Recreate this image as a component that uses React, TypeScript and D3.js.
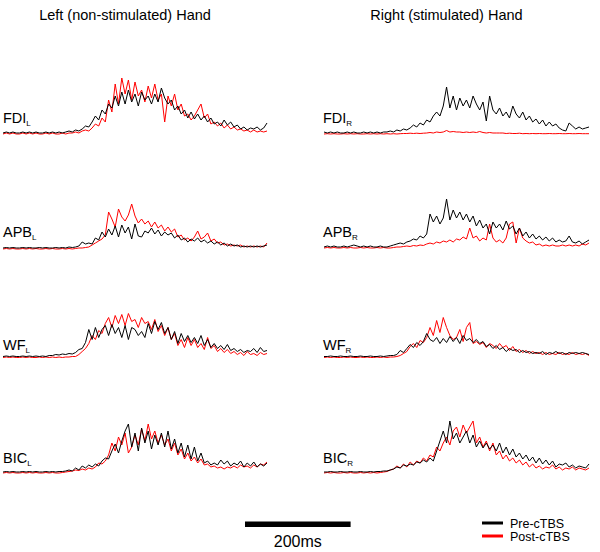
import React from "react";
import * as d3 from "d3";

// ---------- data ----------
const TITLES = ["Left (non-stimulated) Hand", "Right (stimulated) Hand"];
const MUSCLES = ["FDI", "APB", "WF", "BIC"];
const SIDES = ["L", "R"];
const LEGEND = ["Pre-cTBS", "Post-cTBS"];
const SWEEP_MS = 500;
const SCALE_BAR_MS = 200;
const SCALE_BAR_LABEL = "200ms";

// rectified EMG envelopes (a.u.), sampled evenly over the sweep
const preFDI_L = [1,2,1,2,1,1,2,1,2,1,2,1,1,2,1,2,1,2,1,2,3,2,4,3,5,8,7,12,18,14,24,20,30,26,38,28,42,30,44,32,40,28,42,34,38,30,40,32,46,36,30,34,24,28,20,24,16,22,15,20,14,18,12,16,10,12,8,14,9,12,7,9,5,7,4,6,5,7,4,6,11];
const postFDI_L = [0,1,0,1,0,0,1,0,1,0,1,0,0,1,0,1,0,0,1,0,1,1,2,1,3,4,3,6,10,8,16,12,34,22,50,30,56,40,54,34,52,38,44,32,48,36,50,34,40,12,38,28,40,24,30,18,20,14,18,24,30,16,20,10,12,8,11,6,9,5,7,4,5,3,4,2,4,2,3,2,3];

const preFDI_R = [2,1,2,1,2,1,1,2,1,2,1,1,2,1,2,1,2,1,2,2,3,2,4,3,5,4,6,9,7,11,9,14,12,18,22,18,28,47,26,38,24,36,28,34,26,38,30,24,32,13,38,24,20,26,18,22,16,28,20,16,22,14,18,12,15,10,14,8,12,8,10,6,4,3,11,8,5,7,5,6,7];
const postFDI_R = [0,0.3,0,0.3,0,0,0.3,0,0.3,0,0.3,0,0,0.3,0,0.3,0,0.3,0,0.3,0,0.3,0,0.3,0.5,0.5,0.8,0.5,0.8,0.5,0.8,1,1.5,1,2,1.5,2,3.5,2,2.5,2,2,1.5,2,1.5,2,1.5,2.5,1.5,1,1.5,1,1,1,1,0.5,0.8,0.5,0.5,0.8,0.3,0.5,0.3,0.5,0.3,0.5,0.3,0.3,0.5,0.3,0.3,0.5,0.3,0.3,0.5,0.3,0.3,0.5,0.3,0.3,0.3];

const preAPB_L = [1,1.5,1,1.5,1,1,1.5,1,1.5,1,1,1.5,1,1.5,1,1,1.5,1,1.5,1,2,1.5,2,3,7,5,6,5,11,9,17,12,20,14,23,12,24,16,22,10,25,13,12,18,16,21,15,19,13,17,14,16,11,14,9,11,7,10,8,11,7,9,6,8,5,7,4,6,3,5,3,4,2,3,2,3,2,3,2,3,4];
const postAPB_L = [0,0.5,0,0.5,0,0,0.5,0,0.5,0,0.5,0,0,0.5,0,0.5,0,0,0.5,0,0.5,0,0.5,1,1,1.5,2,4,6,8,10,14,37,30,22,40,32,28,34,45,33,26,30,25,28,22,27,21,24,18,22,17,20,12,14,9,11,8,12,18,10,12,16,8,10,6,7,4,5,3,4,3,4,2,3,2,3,2,3,2,6];

const preAPB_R = [1,2,1,2,1,1,2,1,2,3,2,1,2,1,2,1,1,2,1,1,2,3,4,5,4,6,7,9,8,12,10,14,34,26,32,24,30,49,28,38,30,36,28,34,26,32,22,28,20,24,14,26,20,24,18,27,19,22,14,20,12,16,10,14,9,12,8,11,7,10,6,8,6,7,12,6,5,7,4,6,8];
const postAPB_R = [0,0.5,0,0.5,0,0,0.5,0,0.5,0,0,0.5,0,0.5,0,0,0.5,0,0.5,0,0,0.5,1,1,1.5,2,1.5,2.5,2,3,2.5,4,5,4,6,5,7,6,8,6,9,8,11,9,20,10,12,7,10,8,24,10,6,8,5,10,24,26,5,20,10,7,5,6,3,4,2,3,2,3,2,2,3,2,3,2,3,2,4,3,5];

const preWF_L = [1,1.5,1,1.5,1,1,1.5,1,1.5,1,1.5,1,1.5,1,2,2,3,2.5,3.5,3,4,3.5,5,8,9,15,28,18,30,20,28,32,22,33,24,30,20,32,18,30,28,22,26,20,34,24,36,28,35,24,30,18,26,14,24,16,22,15,20,14,22,12,18,10,14,9,12,8,13,7,9,6,8,5,7,6,9,5,10,6,7];
const postWF_L = [0,0.5,0,0.5,0,0,0.5,0,0.5,0,0,0.5,0,0.5,0,0.5,0,0.5,0,0.5,0.5,1,1,3,6,9,14,22,18,27,24,34,40,30,42,34,43,32,44,36,38,30,40,34,36,28,38,26,32,22,30,18,24,12,18,10,20,12,18,10,14,8,20,9,12,6,9,5,8,4,6,3,5,2,6,3,4,2,5,3,4];

const preWF_R = [1,1,1.5,1,1,1.5,1,1,1.5,1,1,1.5,1,1,1.5,1,1,1.5,1,1.5,2,2,3,7,5,9,13,10,15,12,16,24,18,16,20,14,19,15,21,16,20,14,22,17,19,15,18,14,16,11,13,9,12,8,10,6,9,7,8,5,7,5,6,4,5,4,6,3,5,4,6,4,5,3,5,4,5,4,5,4,3];
const postWF_R = [0,0.5,0,0.5,0,0,0.5,0,0.5,0,0,0.5,0,0.5,0,0,0.5,0,0.5,0,0.5,0.5,1,2,4,6,11,14,10,17,15,20,30,22,37,25,40,30,22,18,20,28,16,30,35,14,16,13,15,10,14,12,9,14,10,12,7,11,6,8,5,7,4,6,4,5,3,5,3,4,3,5,3,4,3,5,3,4,3,4,2];

const preBIC_L = [1,1.5,1,1.5,1,1,1.5,1,1.5,1,1.5,1,1,1.5,1,1.5,1,1.5,1.5,2,3,2,5,3,7,5,8,6,9,7,12,15,14,22,29,20,32,42,49,26,40,22,45,30,42,24,38,28,40,26,42,24,34,20,30,16,28,14,26,12,20,10,12,8,10,8,13,9,12,7,10,8,12,6,10,7,11,6,9,7,10];
const postBIC_L = [0,0.5,0,0.5,0,0,0.5,0,0.5,0,0.5,0,0,0.5,0,0.5,0,0,0.5,1,1.5,2,3,2.5,4,3,5,4,6,10,9,12,18,30,22,36,28,40,20,26,38,28,44,32,49,34,42,30,38,28,34,22,30,18,24,14,20,12,16,10,14,8,9,6,7,5,6,4,6,5,7,5,8,6,7,5,8,6,9,8,11];

const preBIC_R = [1,1,1.5,1,1,1.5,1,1,1.5,1,1,1.5,1,1,1.5,1,1.5,1.5,2,2,3,4,6,5,8,7,9,8,11,10,13,11,15,12,22,32,42,30,52,34,40,30,36,42,30,38,26,32,25,30,24,28,22,30,20,26,18,24,16,20,14,18,12,16,10,15,9,13,8,12,6,9,8,10,6,8,5,7,6,5,9];
const postBIC_R = [0,0.5,0,0.5,0,0,0.5,0,0.5,0,0,0.5,0,0.5,0,0.5,0,0.5,1,1.5,3,4,7,5,9,6,11,8,12,10,15,12,18,16,26,22,30,36,28,42,46,36,48,40,46,52,30,36,26,32,22,30,18,22,14,18,12,15,10,13,8,11,6,9,5,7,4,6,5,8,4,6,3,5,4,6,3,5,4,3,5];

const PRE = [
  [preFDI_L, preFDI_R],
  [preAPB_L, preAPB_R],
  [preWF_L, preWF_R],
  [preBIC_L, preBIC_R],
];
const POST = [
  [postFDI_L, postFDI_R],
  [postAPB_L, postAPB_R],
  [postWF_L, postWF_R],
  [postBIC_L, postBIC_R],
];

// ---------- layout ----------
const W = 600;
const H = 552;
const FONT = "'Liberation Sans', Arial, Helvetica, sans-serif";
const PANEL_X = [
  [3, 267],
  [324, 589],
];
const BASELINES = [
  [134, 134],
  [249, 248],
  [357.5, 357.5],
  [473, 473],
];
const LABEL_BASE = [123, 237, 350, 463];
const PRE_COLOR = "#000000";
const POST_COLOR = "#ff0000";

export default function App() {
  const xScales = PANEL_X.map((r) =>
    d3.scaleLinear().domain([0, SWEEP_MS]).range(r)
  );

  const makeLine = (data: number[], xs: d3.ScaleLinear<number, number>, base: number) => {
    const y = d3.scaleLinear().domain([0, 60]).range([base, base - 60]);
    const n = data.length;
    const gen = d3
      .line<number>()
      .x((_, i) => xs((i / (n - 1)) * SWEEP_MS))
      .y((d) => y(d));
    return gen(data) || "";
  };

  const barX0 = 245;
  const barLen = xScales[0](SCALE_BAR_MS) - xScales[0](0);

  return (
    <svg
      width={W}
      height={H}
      style={{ position: "absolute", left: 0, top: 0, background: "#fff" }}
      fontFamily={FONT}
    >
      <rect x={0} y={0} width={W} height={H} fill="#fff" />
      {TITLES.map((t, s) => (
        <text
          key={t}
          x={(PANEL_X[s][0] + PANEL_X[s][1]) / 2 - 10}
          y={20}
          fontSize={14.5}
          textAnchor="middle"
          fill="#000"
        >
          {t}
        </text>
      ))}
      {MUSCLES.map((m, r) =>
        SIDES.map((side, s) => (
          <g key={m + side}>
            <text
              x={s === 0 ? 3 : 323}
              y={LABEL_BASE[r]}
              fontSize={14.5}
              fill="#000"
            >
              {m}
              <tspan fontSize={8} dy={3}>
                {side}
              </tspan>
            </text>
            <path
              d={makeLine(POST[r][s], xScales[s], BASELINES[r][s])}
              fill="none"
              stroke={POST_COLOR}
              strokeWidth={1}
              strokeLinejoin="round"
            />
            <path
              d={makeLine(PRE[r][s], xScales[s], BASELINES[r][s])}
              fill="none"
              stroke={PRE_COLOR}
              strokeWidth={1}
              strokeLinejoin="round"
            />
          </g>
        ))
      )}
      {/* scale bar */}
      <rect x={barX0} y={521.5} width={barLen} height={5.5} fill="#000" />
      <text
        x={barX0 + barLen / 2}
        y={547}
        fontSize={16}
        textAnchor="middle"
        fill="#000"
      >
        {SCALE_BAR_LABEL}
      </text>
      {/* legend */}
      {LEGEND.map((l, i) => (
        <g key={l}>
          <line
            x1={482}
            x2={503}
            y1={523 + i * 13}
            y2={523 + i * 13}
            stroke={i === 0 ? PRE_COLOR : POST_COLOR}
            strokeWidth={3}
          />
          <text x={510} y={527.5 + i * 13} fontSize={12.5} fill="#000">
            {l}
          </text>
        </g>
      ))}
    </svg>
  );
}
